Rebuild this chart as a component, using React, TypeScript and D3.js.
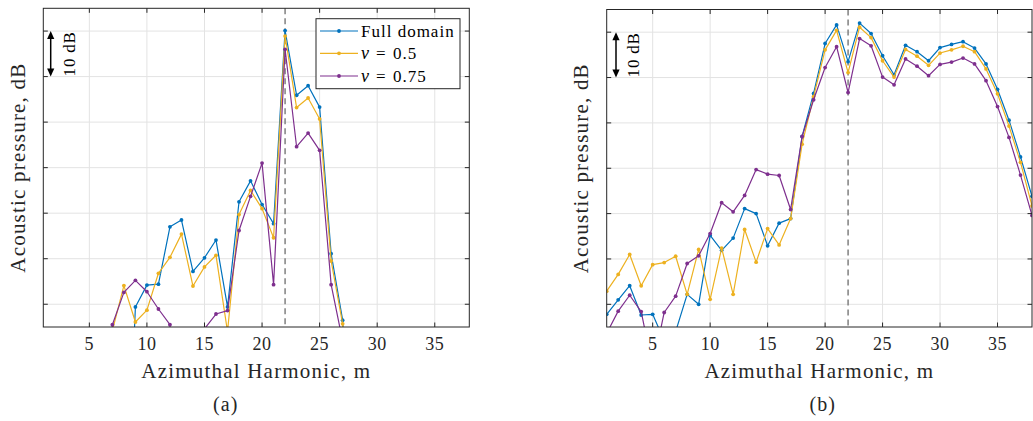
import React from "react";
import * as d3 from "d3";

// Azimuthal harmonic index (x categories)
const harmonics = [
  1, 2, 3, 4, 5, 6, 7, 8, 9, 10, 11, 12, 13, 14, 15, 16, 17, 18, 19, 20,
  21, 22, 23, 24, 25, 26, 27, 28, 29, 30, 31, 32, 33, 34, 35, 36, 37, 38,
];
const xTicks = [5, 10, 15, 20, 25, 30, 35];
const yGrid = [0, 10, 20, 30, 40, 50, 60];
const markerHarmonic = 22;

const seriesNames = ["Full domain", "0.5", "0.75"];
const seriesColors = ["#0072BD", "#EDB120", "#7E2F8E"];

// Panel (a) values, dB (relative; values below -5 fall outside the axes)
const fullA = [
  -40, -40, -40, -40, -40, -40, -40, -60, -0.6, 4.2, 4.4, 17.0, 18.5, 7.2, 10.2, 14.1, -0.6, 22.5, 27.1, 21.9,
  17.7, 60.1, 45.9, 48.0, 43.3, 11.1, -3.5, -60, -60, -60, -60, -60, -60, -60, -60, -60, -60, -60,
];
const nu05A = [
  -40, -40, -40, -40, -40, -40, -5.8, 4.1, -3.9, -1.3, 6.8, 10.3, 15.4, 4.0, 8.2, 10.75, -6, 19.7, 25.0, 21.0,
  14.6, 58.9, 43.2, 45.3, 40.7, 9.5, -4.3, -60, -60, -60, -60, -60, -60, -60, -60, -60, -60, -60,
];
const nu075A = [
  -40, -40, -40, -40, -40, -40, -4.5, 2.6, 5.25, 2.75, -1.05, -4.5, -60, -60, -5.4, -2.15, -1.4, 16.2, 23.7, 31.0,
  4.3, 56.0, 34.6, 37.6, 33.8, 4.3, -8.1, -40, -40, -40, -40, -40, -40, -40, -40, -40, -40, -40,
];

// Panel (b) values, dB
const fullB = [
  -2.2, 1.0, 4.1, -2.35, -2.2, -8, -6, 2.2, 0.0, 15.2, 11.9, 14.6, 21.1, 20.0, 12.9, 17.9, 18.9, 37.0, 46.5, 57.5,
  61.6, 53.5, 62.0, 59.7, 54.8, 50.6, 57.1, 55.7, 53.7, 56.6, 57.3, 57.9, 56.5, 53.0, 47.4, 40.6, 32.5, 23.8,
];
const nu05B = [
  2.9, 6.6, 11.0, 4.1, 8.75, 9.2, 10.6, 2.2, 12.1, 1.1, 12.4, 2.2, 16.5, 9.3, 16.7, 13.1, 18.9, 35.3, 45.8, 56.1,
  60.4, 51.1, 61.1, 58.8, 53.7, 50.1, 56.2, 54.7, 52.7, 55.4, 56.1, 56.9, 55.7, 51.9, 46.4, 39.3, 31.3, 21.7,
];
const nu075B = [
  -6.4, -1.5, 2.0, -1.6, -14, -1.8, 1.8, 9.0, 10.7, 15.6, 22.4, 20.4, 24.0, 29.7, 28.7, 28.4, 20.9, 37.0, 45.1, 52.2,
  56.8, 46.7, 58.6, 57.0, 50.1, 48.4, 54.1, 52.5, 50.4, 52.9, 53.4, 54.3, 53.0, 49.3, 43.6, 36.8, 28.5, 19.6,
];

const FONT =
  "'Liberation Serif', 'Tinos', 'Noto Serif', 'Nimbus Roman', 'Nimbus Roman No9 L', 'FreeSerif', 'Times New Roman', Times, 'DejaVu Serif', serif";
const AXIS = "#262626";
const GRID = "#e3e3e3";

type PanelProps = {
  id: string;
  left: number;
  right: number;
  top: number;
  bottom: number;
  series: number[][];
  arrowX: number;
  dbTextX: number;
  yLabelX: number;
  caption: string;
  captionX: number;
  legend: boolean;
};

const txt = (size: number, ls = 0, extra: React.CSSProperties = {}): React.CSSProperties => ({
  fontFamily: FONT,
  fontSize: `${size}px`,
  letterSpacing: `${ls}px`,
  ...extra,
});

function Panel(p: PanelProps) {
  const x = d3.scaleLinear().domain([1, 38]).range([p.left, p.right]);
  const y = d3.scaleLinear().domain([-5, 65]).range([p.bottom, p.top]);
  const line = d3
    .line<number>()
    .x((_, i) => x(harmonics[i]))
    .y((d) => y(d));
  const cx = (p.left + p.right) / 2;
  const cy = (p.top + p.bottom) / 2;
  const tickLen = 4.5;

  return (
    <g>
      <defs>
        <clipPath id={`clip-${p.id}`}>
          <rect x={p.left} y={p.top} width={p.right - p.left} height={p.bottom - p.top} />
        </clipPath>
      </defs>
      <rect x={p.left} y={p.top} width={p.right - p.left} height={p.bottom - p.top} fill="#fff" />
      {xTicks.map((t) => (
        <line key={`gx${t}`} x1={x(t)} x2={x(t)} y1={p.top} y2={p.bottom} stroke={GRID} strokeWidth={1} />
      ))}
      {yGrid.map((t) => (
        <line key={`gy${t}`} x1={p.left} x2={p.right} y1={y(t)} y2={y(t)} stroke={GRID} strokeWidth={1} />
      ))}
      <line
        x1={x(markerHarmonic)}
        x2={x(markerHarmonic)}
        y1={p.top}
        y2={p.bottom}
        stroke="#808080"
        strokeWidth={1.5}
        strokeDasharray="6,4"
      />
      <g clipPath={`url(#clip-${p.id})`}>
        {p.series.map((s, si) => (
          <g key={si}>
            <path d={line(s) || ""} fill="none" stroke={seriesColors[si]} strokeWidth={1.2} strokeLinejoin="round" />
            {s.map((v, i) => (
              <circle key={i} cx={x(harmonics[i])} cy={y(v)} r={1.9} fill={seriesColors[si]} />
            ))}
          </g>
        ))}
      </g>
      {xTicks.map((t) => (
        <g key={`tx${t}`}>
          <line x1={x(t)} x2={x(t)} y1={p.bottom} y2={p.bottom - tickLen} stroke={AXIS} strokeWidth={1} />
          <line x1={x(t)} x2={x(t)} y1={p.top} y2={p.top + tickLen} stroke={AXIS} strokeWidth={1} />
          <text x={x(t)} y={350} textAnchor="middle" style={txt(18, 0.5)} fill={AXIS}>
            {t}
          </text>
        </g>
      ))}
      {yGrid.map((t) => (
        <g key={`ty${t}`}>
          <line x1={p.left} x2={p.left + tickLen} y1={y(t)} y2={y(t)} stroke={AXIS} strokeWidth={1} />
          <line x1={p.right} x2={p.right - tickLen} y1={y(t)} y2={y(t)} stroke={AXIS} strokeWidth={1} />
        </g>
      ))}
      <rect
        x={p.left}
        y={p.top}
        width={p.right - p.left}
        height={p.bottom - p.top}
        fill="none"
        stroke={AXIS}
        strokeWidth={1}
      />
      <line x1={p.arrowX} x2={p.arrowX} y1={y(60) + 6} y2={y(50) - 6} stroke="#000" strokeWidth={1.5} />
      <path
        d={`M${p.arrowX},${y(60)} L${p.arrowX - 3.6},${y(60) + 8} L${p.arrowX + 3.6},${y(60) + 8} Z`}
        fill="#000"
      />
      <path
        d={`M${p.arrowX},${y(50)} L${p.arrowX - 3.6},${y(50) - 8} L${p.arrowX + 3.6},${y(50) - 8} Z`}
        fill="#000"
      />
      <text
        transform={`translate(${p.dbTextX},${(y(60) + y(50)) / 2}) rotate(-90)`}
        textAnchor="middle"
        style={txt(17, 0.8)}
        fill="#000"
      >
        10 dB
      </text>
      <text x={cx} y={377.5} textAnchor="middle" style={txt(21, 1.2)} fill={AXIS}>
        Azimuthal Harmonic, m
      </text>
      <text
        transform={`translate(${p.yLabelX},${cy}) rotate(-90)`}
        textAnchor="middle"
        style={txt(21, 1.2)}
        fill={AXIS}
      >
        Acoustic pressure, dB
      </text>
      <text x={p.captionX} y={411} textAnchor="middle" style={txt(20, 1)} fill={AXIS}>
        {p.caption}
      </text>
      {p.legend && <Legend />}
    </g>
  );
}

function Legend() {
  const bx = 316;
  const by = 18.7;
  const rows = [31, 53.3, 76];
  return (
    <g>
      <rect x={bx} y={by} width={144} height={70} fill="#fff" stroke={AXIS} strokeWidth={1} />
      {rows.map((ry, i) => (
        <g key={i}>
          <line x1={320} x2={358} y1={ry} y2={ry} stroke={seriesColors[i]} strokeWidth={1.2} />
          <circle cx={339} cy={ry} r={1.9} fill={seriesColors[i]} />
          {i === 0 ? (
            <text x={361} y={ry + 6} style={txt(17, 1)} fill="#000">
              {seriesNames[i]}
            </text>
          ) : (
            <g>
              <text x={361} y={ry + 6} style={txt(18, 0, { fontStyle: "italic" })} fill="#000">
                ν
              </text>
              <text x={376} y={ry + 6} style={txt(17)} fill="#000">
                =
              </text>
              <text x={393} y={ry + 6} style={txt(17, 1)} fill="#000">
                {seriesNames[i]}
              </text>
            </g>
          )}
        </g>
      ))}
    </g>
  );
}

export default function App() {
  return (
    <svg
      width={1033}
      height={421}
      viewBox="0 0 1033 421"
      style={{ position: "absolute", left: 0, top: 0, background: "#fff" }}
    >
      <rect x={0} y={0} width={1033} height={421} fill="#fff" />
      <Panel
        id="a"
        left={43.3}
        right={469.3}
        top={8.3}
        bottom={327}
        series={[fullA, nu05A, nu075A]}
        arrowX={50.7}
        dbTextX={74.5}
        yLabelX={24.5}
        caption="(a)"
        captionX={225.7}
        legend={true}
      />
      <Panel
        id="b"
        left={606.7}
        right={1032}
        top={9.5}
        bottom={327}
        series={[fullB, nu05B, nu075B]}
        arrowX={616}
        dbTextX={639}
        yLabelX={588}
        caption="(b)"
        captionX={822.7}
        legend={false}
      />
    </svg>
  );
}
